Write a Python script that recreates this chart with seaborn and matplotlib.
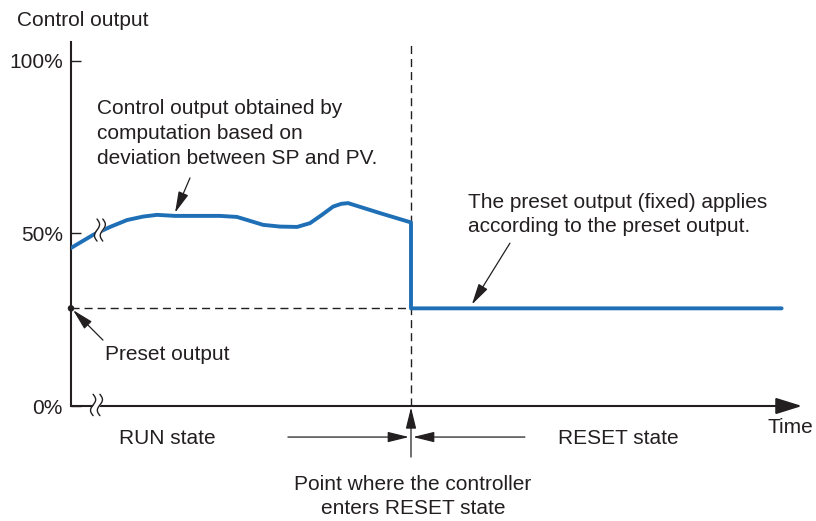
import numpy as np
import matplotlib
matplotlib.use("Agg")
import matplotlib.pyplot as plt
import seaborn as sns

# ---------------- data ----------------
time = [0, 6.5, 11.5, 16.5, 21.2, 25.3, 30.6, 37.9, 43.8, 48.8, 53.5, 56.5,
        61.5, 66.5, 70.3, 73.8, 77.1, 79.5, 81.5, 84.1, 90.9, 100, 100, 209]
output = [45.8, 49.6, 51.9, 53.9, 54.9, 55.4, 55.1, 55.1, 55.1, 54.8, 53.4, 52.5,
          52.0, 51.9, 53.0, 55.4, 57.8, 58.6, 58.8, 58.0, 55.9, 53.2, 28.3, 28.3]
preset_value = 28.3
reset_time = 100
ytick_values = [0, 50, 100]
ytick_labels = ["0%", "50%", "100%"]

# ---------------- style ----------------
sns.set_theme(style="white")
plt.rcParams['font.family'] = ['Liberation Sans', 'DejaVu Sans']
DARK = "#231f20"
BLUE = "#1f6fb6"
FS = 15

fig = plt.figure(figsize=(8.16, 5.21), dpi=100)
ax = fig.add_axes([71 / 816, (521 - 406) / 521, (802 - 71) / 816, (406 - 42) / 521])
ax.set_xlim(0, 215)
ax.set_ylim(0, 105.5)
for s in ["top", "right", "bottom"]:
    ax.spines[s].set_visible(False)
ax.spines["left"].set_linewidth(1.5)
ax.spines["left"].set_color(DARK)
ax.set_xticks([])
ax.set_yticks(ytick_values, ytick_labels)
ax.tick_params(axis="y", left=True, direction="in", length=7, width=1,
               color=DARK, labelsize=FS, labelcolor=DARK, pad=6)

# time axis with arrow
ax.annotate("", xy=(215, 0), xytext=(0, 0), annotation_clip=False,
            arrowprops=dict(arrowstyle="-|>,head_length=1.6,head_width=0.5",
                            mutation_scale=10, lw=1.5, color=DARK,
                            shrinkA=0, shrinkB=0))

# dashed guides
ax.plot([0, reset_time], [preset_value, preset_value], ls=(0, (5.8, 3.6)),
        lw=1, color=DARK, zorder=2)
ax.axvline(reset_time, ls=(0, (5.8, 3.6)), lw=1, color=DARK, zorder=2)

# control output curve
sns.lineplot(x=time, y=output, sort=False, estimator=None, color=BLUE,
             lw=2.8, ax=ax, zorder=4)
sns.scatterplot(x=[0], y=[preset_value], s=22, color=DARK, edgecolor="none",
                zorder=8, ax=ax, clip_on=False)


def break_mark(xc, yc, gap, h, amp):
    s = np.linspace(-1, 1, 60)
    ys = yc + s * h / 2
    x1 = xc - gap / 2 + amp * np.sin(np.pi * s)
    x2 = xc + gap / 2 + amp * np.sin(np.pi * s)
    ax.fill_betweenx(ys, x1, x2, color="white", zorder=6, lw=0, clip_on=False)
    for xx in (x1, x2):
        ax.plot(xx, ys, color=DARK, lw=1.0, zorder=7, clip_on=False)


break_mark(7.5, 0.3, 2.0, 6.2, 0.75)
break_mark(8.5, 51.0, 1.7, 6.4, 0.75)

ARW = dict(arrowstyle="-|>,head_length=1.3,head_width=0.32",
           mutation_scale=10, lw=0.9, color=DARK, shrinkA=0, shrinkB=0)

# annotations
ax.text(7.6, 79.1, "Control output obtained by\ncomputation based on\ndeviation between SP and PV.",
        ha="left", va="center", fontsize=FS, color=DARK, linespacing=1.4)
ax.annotate("", xy=(30.6, 56.0), xytext=(35.0, 66.1), arrowprops=ARW,
            annotation_clip=False)

ax.text(116.8, 55.4, "The preset output (fixed) applies\naccording to the preset output.",
        ha="left", va="center", fontsize=FS, color=DARK, linespacing=1.35)
ax.annotate("", xy=(117.9, 29.4), xytext=(129.1, 47.2), arrowprops=ARW,
            annotation_clip=False)

ax.text(10, 14.8, "Preset output", ha="left", va="center", fontsize=FS, color=DARK)
ax.annotate("", xy=(0.6, 27.8), xytext=(9.4, 19.1), arrowprops=ARW,
            annotation_clip=False)

# reset point markers below the axis
ax.annotate("", xy=(reset_time, -0.4), xytext=(reset_time, -14.8),
            arrowprops=ARW, annotation_clip=False)
ax.annotate("", xy=(reset_time - 0.6, -9.0), xytext=(63.8, -9.0),
            arrowprops=ARW, annotation_clip=False)
ax.annotate("", xy=(reset_time + 0.6, -9.0), xytext=(133.5, -9.0),
            arrowprops=ARW, annotation_clip=False)

ax.text(28.2, -9.3, "RUN state", ha="center", va="center", fontsize=FS, color=DARK)
ax.text(161, -9.3, "RESET state", ha="center", va="center", fontsize=FS, color=DARK)
ax.text(100.6, -26.2, "Point where the controller\nenters RESET state", ha="center",
        va="center", multialignment="center", fontsize=FS, color=DARK, linespacing=1.35)
ax.text(205, -6.1, "Time", ha="left", va="center", fontsize=FS, color=DARK)

fig.text(17 / 816, 1 - 20 / 521, "Control output", ha="left", va="center",
         fontsize=FS, color=DARK)

fig.savefig("out.png", dpi=100)
